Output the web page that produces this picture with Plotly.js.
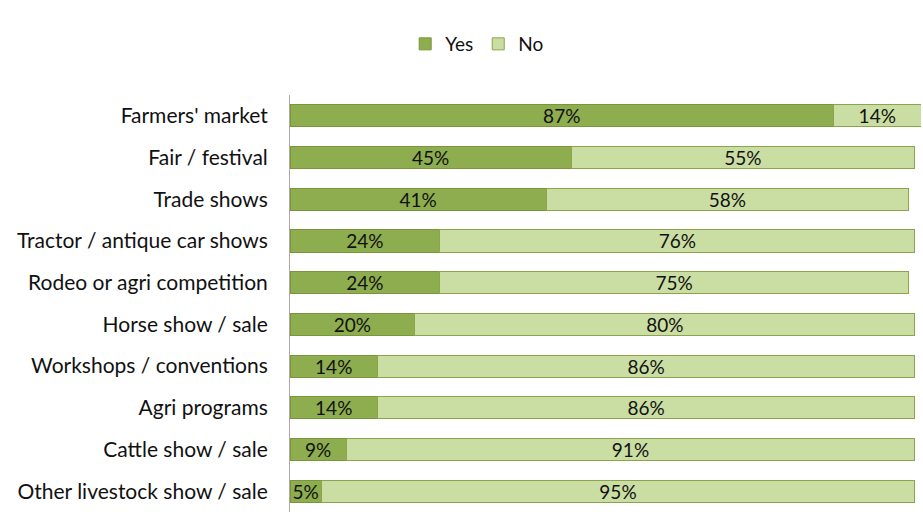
<!DOCTYPE html>
<html>
<head>
<meta charset="utf-8">
<script src="https://cdn.plot.ly/plotly-3.0.1.min.js"></script>
<style>
html, body { margin: 0; padding: 0; background: #fff; }
#chart { width: 923px; height: 524px; }
</style>
</head>
<body>
<div id="chart"></div>
<script>
var categories = ["Farmers' market", "Fair / festival", "Trade shows", "Tractor / antique car shows",
    "Rodeo or agri competition", "Horse show / sale", "Workshops / conventions", "Agri programs",
    "Cattle show / sale", "Other livestock show / sale"];
var yesValues = [87, 45, 41, 24, 24, 20, 14, 14, 9, 5];
var noValues = [14, 55, 58, 76, 75, 80, 86, 86, 91, 95];

function pct(arr) {
    return arr.map(function (v) { return v + "%"; });
}

var fontFamily = "Lato, 'Open Sans', sans-serif";
var tickFont = {family: fontFamily, size: 21, color: "#111111"};
var barFont = {family: fontFamily, size: 19, color: "#111111"};

var yes = {
    type: "bar", orientation: "h", name: "Yes",
    y: categories, x: yesValues,
    text: pct(yesValues), textposition: "inside", insidetextanchor: "middle",
    textfont: barFont, constraintext: "none",
    marker: {color: "#8dad4e", line: {color: "#7a963a", width: 1}},
    hoverinfo: "skip"
};
var no = {
    type: "bar", orientation: "h", name: "No",
    y: categories, x: noValues,
    text: pct(noValues), textposition: "inside", insidetextanchor: "middle",
    textfont: barFont, constraintext: "none",
    marker: {color: "#cadda3", line: {color: "#8aa54a", width: 1}},
    hoverinfo: "skip"
};

var layout = {
    width: 923, height: 524,
    margin: {l: 290, r: 2, t: 95, b: 12},
    barmode: "stack",
    bargap: 0.47,
    paper_bgcolor: "#ffffff", plot_bgcolor: "#ffffff",
    font: tickFont,
    showlegend: true,
    legend: {
        orientation: "h", xref: "container", yref: "container",
        x: 0.517, xanchor: "center", y: 0.916, yanchor: "middle",
        font: {family: fontFamily, size: 19, color: "#111111"},
        itemwidth: 30, traceorder: "normal"
    },
    xaxis: {range: [0, 101], showticklabels: false, showgrid: false, zeroline: false, fixedrange: true},
    yaxis: {
        autorange: "reversed", showline: true, linecolor: "#b0a8a8", linewidth: 1,
        ticks: "", ticklabelstandoff: 17, tickfont: tickFont, showgrid: false
    }
};

Plotly.newPlot("chart", [yes, no], layout, {displayModeBar: false, staticPlot: true});
</script>
</body>
</html>
